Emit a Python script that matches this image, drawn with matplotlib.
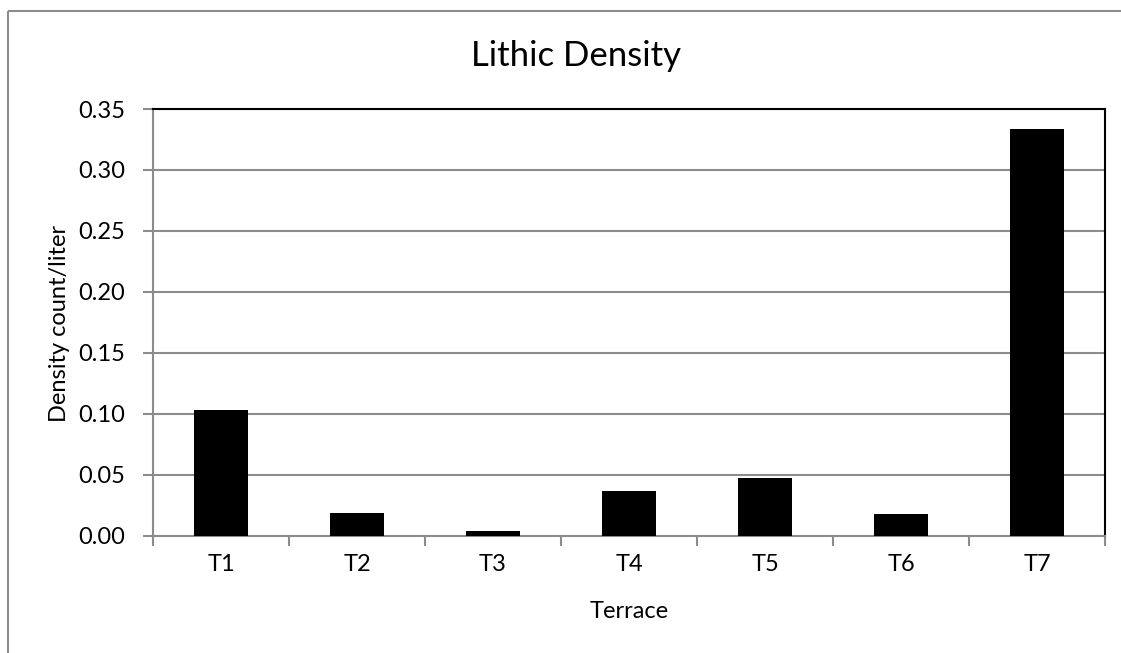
import matplotlib
matplotlib.use("Agg")
import matplotlib.pyplot as plt
from matplotlib.lines import Line2D
import numpy as np

categories = ["T1", "T2", "T3", "T4", "T5", "T6", "T7"]
density = [0.103, 0.019, 0.004, 0.037, 0.047, 0.018, 0.334]
yticks = [0.00, 0.05, 0.10, 0.15, 0.20, 0.25, 0.30, 0.35]

plt.rcParams['font.family'] = ['Lato', 'DejaVu Sans']

fig = plt.figure(figsize=(11.21, 6.53), dpi=100)
W, H = 1121, 653

# outer chart frame (left and top edges only visible)
fig.lines.append(Line2D([8 / W, 8 / W], [-0.05, 1 - 11 / H], transform=fig.transFigure,
                        color="#8c8c8c", linewidth=1.5, solid_capstyle="butt"))
fig.lines.append(Line2D([8 / W, 1.05], [1 - 11 / H, 1 - 11 / H], transform=fig.transFigure,
                        color="#8c8c8c", linewidth=1.5, solid_capstyle="butt"))

ax = fig.add_axes([153 / W, 1 - 535.7 / H, (1105 - 153) / W, (535.7 - 109) / H])
x = np.arange(len(categories))
ax.bar(x, density, width=0.4, color="black", zorder=3)

ax.set_xlim(-0.5, len(categories) - 0.5)
ax.set_ylim(0, 0.35)
ax.set_yticks(yticks)
ax.set_yticklabels([f"{v:.2f}" for v in yticks], fontsize=17)
ax.set_xticks(x)
ax.set_xticklabels(categories, fontsize=17)
ax.set_xticks(np.arange(len(categories) + 1) - 0.5, minor=True)
ax.tick_params(axis="x", which="major", length=0, pad=13)
ax.tick_params(axis="x", which="minor", length=7, width=1.5, color="#8c8c8c", direction="out")
ax.tick_params(axis="y", length=7, width=1.5, color="#8c8c8c", direction="out", pad=13)

ax.grid(axis="y", color="#8c8c8c", linewidth=1.5, zorder=0)
ax.set_axisbelow(True)
for s in ["left", "bottom"]:
    ax.spines[s].set_color("#8c8c8c")
    ax.spines[s].set_linewidth(1.5)
for s in ["top", "right"]:
    ax.spines[s].set_color("black")
    ax.spines[s].set_linewidth(1.5)

fig.text(629 / W, 1 - 611 / H, "Terrace", fontsize=17, ha="center", va="center")
fig.text(60 / W, 1 - 323 / H, "Density count/liter", fontsize=17, ha="center", va="center",
         rotation=90)
fig.text(576 / W, 1 - 56 / H, "Lithic Density", fontsize=25, ha="center", va="center")

fig.savefig("out.png", dpi=100)
